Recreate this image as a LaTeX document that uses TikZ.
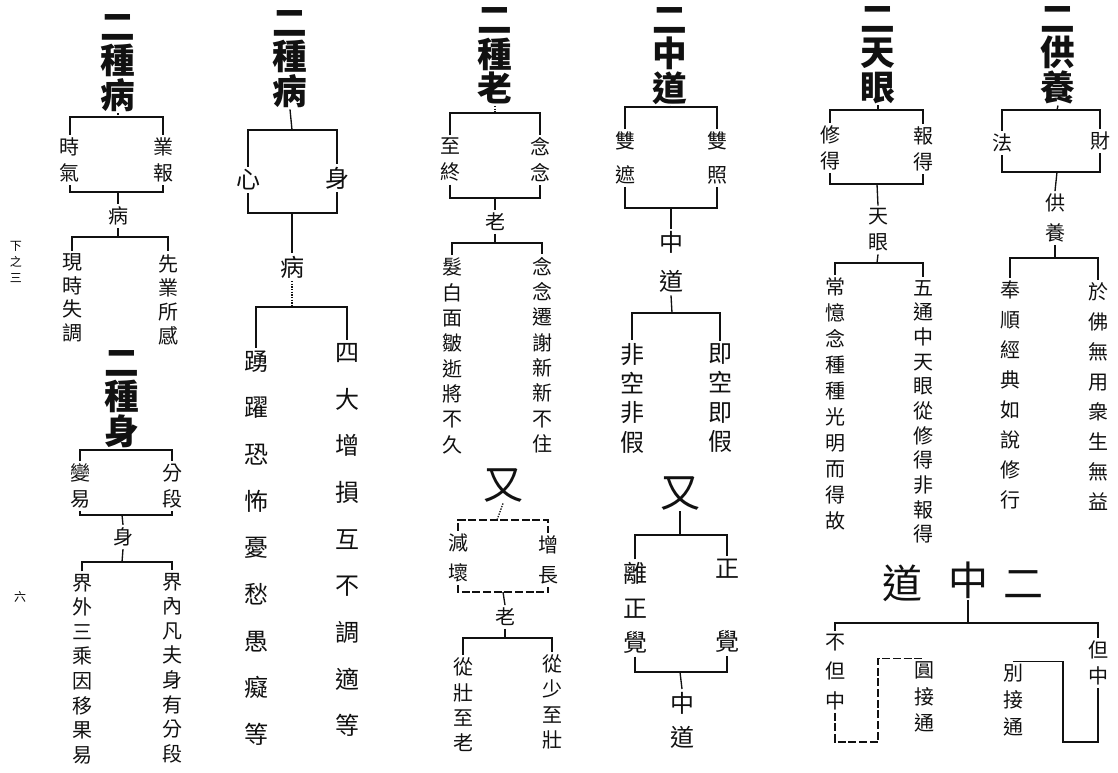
\documentclass[tikz,border=0pt]{standalone}
\usepackage{fontspec}
\usepackage{tikz}
\usetikzlibrary{positioning,calc}
\newfontfamily\kanji{Noto Sans CJK TC}
\definecolor{inkblack}{HTML}{111111}

\begin{document}
\begin{tikzpicture}[
      x=0.75pt, y=-0.75pt,
      title/.style={
        font={\kanji\bfseries\fontsize{26}{26}\selectfont\lineskiplimit=-20pt},
        align=center, inner sep=1pt, text=inkblack
      },
      kid/.style={
        font={\kanji\fontsize{15}{#1}\selectfont},
        align=center, inner sep=2pt, text=inkblack
      },
      kid/.default=19,
      kidbig/.style={
        font={\kanji\fontsize{18}{#1}\selectfont},
        align=center, inner sep=2pt, text=inkblack
      },
      kidbig/.default=26,
      bigchar/.style={font={\kanji\fontsize{30}{30}\selectfont}, inner sep=1pt, text=inkblack},
      margin/.style={font={\kanji\fontsize{9}{12}\selectfont}, align=center, inner sep=0pt},
      link/.style={line width=1pt, inkblack},
      brokenlink/.style={line width=1pt, inkblack, dash pattern=on 6pt off 2pt}
    ]
      \useasboundingbox[fill=white] (0,0) rectangle (1118,773);

      % Margin notes
      \node[margin] (vol) at (16,262) {下\\之\\三};
      \node[margin] (pg) at (20,597) {六};

      % Two kinds of illness (1)
      \node[title] (t1) at (118,63) {二\\種\\病};
      \coordinate (k1) at (118,117);
      \node[kid=19.5] (sq) at (70,160) {時\\氣};
      \node[kid=19.5] (yb) at (163,160) {業\\報};
      \coordinate (k2) at (118,192);
      \node[kid] (b1) at (118,216) {病};
      \coordinate (k3) at (118,237);
      \node[kid=17.6] (xs) at (72,298) {現\\時\\失\\調};
      \node[kid=18.2] (xy) at (168,300) {先\\業\\所\\感};

      \draw[link, densely dotted] (t1.south) -- (k1);
      \draw[link] (sq.north) |- (k1) -| (yb.north);
      \draw[link] (sq.south) |- (k2) -| (yb.south);
      \draw[link] (k2) -- (b1.north);
      \draw[link] (b1.south) -- (k3);
      \draw[link] (xs.north) |- (k3) -| (xy.north);

      % Two kinds of body
      \node[title] (t2) at (122,399) {二\\種\\身};
      \coordinate (k4) at (122,450);
      \node[kid=19] (by) at (80,486) {變\\易};
      \node[kid=19] (fd) at (172,486) {分\\段};
      \coordinate (k5) at (122,515);
      \node[kid] (s1) at (123,537) {身};
      \coordinate (k6) at (122,562);
      \node[kid=18.4] (jw) at (82,669) {界\\外\\三\\乘\\因\\移\\果\\易};
      \node[kid=18.4] (jn) at (172,668) {界\\內\\凡\\夫\\身\\有\\分\\段};

      \draw[link, densely dotted] (t2.south) -- (k4);
      \draw[link] (by.north) |- (k4) -| (fd.north);
      \draw[link] (by.south) |- (k5) -| (fd.south);
      \draw[link] (k5) -- (s1.north);
      \draw[link] (s1.south) -- (k6);
      \draw[link] (jw.north) |- (k6) -| (jn.north);

      % Two kinds of illness (2)
      \node[title] (t3) at (290,59) {二\\種\\病};
      \coordinate (k7) at (292,130);
      \node[kidbig] (xin) at (248,180) {心};
      \node[kidbig] (shen) at (337,178) {身};
      \coordinate (k8) at (292,213);
      \node[kidbig] (b2) at (292,267) {病};
      \coordinate (k9) at (292,307);
      \node[kidbig=35] (yy) at (256,548) {踴\\躍\\恐\\怖\\憂\\愁\\愚\\癡\\等};
      \node[kidbig=35] (sd) at (347,540) {四\\大\\增\\損\\互\\不\\調\\適\\等};

      \draw[link] (t3.south) -- (k7);
      \draw[link] (xin.north) |- (k7) -| (shen.north);
      \draw[link] (xin.south) |- (k8) -| (shen.south);
      \draw[link] (k8) -- (b2.north);
      \draw[link, densely dotted] (b2.south) -- (k9);
      \draw[link] (yy.north) |- (k9) -| (sd.north);

      % Two kinds of old age
      \node[title] (t4) at (495,56) {二\\種\\老};
      \coordinate (k10) at (495,113);
      \node[kid=19.5] (zz) at (450,160) {至\\終};
      \node[kid=19.5] (nn) at (540,160) {念\\念};
      \coordinate (k11) at (495,198);
      \node[kid] (l1) at (495,222) {老};
      \coordinate (k12) at (495,243);
      \node[kid=19] (fb) at (452,356) {髮\\白\\面\\皺\\逝\\將\\不\\久};
      \node[kid=19] (nq) at (542,355) {念\\念\\遷\\謝\\新\\新\\不\\住};

      \draw[link, densely dotted] (t4.south) -- (k10);
      \draw[link] (zz.north) |- (k10) -| (nn.north);
      \draw[link] (zz.south) |- (k11) -| (nn.south);
      \draw[link] (k11) -- (l1.north);
      \draw[link] (l1.south) -- (k12);
      \draw[link] (fb.north) |- (k12) -| (nq.north);

      % Again: old age
      \node[bigchar] (y1) at (503,485) {又};
      \coordinate (k13) at (497,520);
      \node[kid=22.5] (jh) at (458,558) {減\\壞};
      \node[kid=22.5] (zc) at (548,560) {增\\長};
      \coordinate (k14) at (503,592);
      \node[kid] (l2) at (505,617) {老};
      \coordinate (k15) at (505,638);
      \node[kid=19] (cz) at (463,705) {從\\壯\\至\\老};
      \node[kid=19] (cs) at (552,702) {從\\少\\至\\壯};

      \draw[link, densely dotted] (y1.south) -- (k13);
      \draw[brokenlink] (jh.north) |- (k13) -| (zc.north);
      \draw[brokenlink] (jh.south) |- (k14) -| (zc.south);
      \draw[link] (k14) -- (l2.north);
      \draw[link] (l2.south) -- (k15);
      \draw[link] (cz.north) |- (k15) -| (cs.north);

      % Two middle ways
      \node[title] (t5) at (670,56) {二\\中\\道};
      \coordinate (k16) at (671,107);
      \node[kid=25] (sz) at (625,158) {雙\\遮};
      \node[kid=25] (sz2) at (717,158) {雙\\照};
      \coordinate (k17) at (671,208);
      \node[kidbig=29] (zd) at (671,262) {中\\道};
      \coordinate (k18) at (672,313);
      \node[kidbig=22] (fk) at (632,398) {非\\空\\非\\假};
      \node[kidbig=22] (jk) at (720,398) {即\\空\\即\\假};

      \draw[link] (t5.south) -- (k16);
      \draw[link] (sz.north) |- (k16) -| (sz2.north);
      \draw[link] (sz.south) |- (k17) -| (sz2.south);
      \draw[link] (k17) -- (zd.north);
      \draw[link] (zd.south) -- (k18);
      \draw[link] (fk.north) |- (k18) -| (jk.north);

      % Again: middle way
      \node[bigchar] (y2) at (680,493) {又};
      \coordinate (k19) at (680,535);
      \node[kidbig=26] (lz) at (635,608) {離\\正\\覺};
      \node[kidbig=55] (zj) at (727,606) {正\\覺};
      \coordinate (k20) at (680,672);
      \node[kidbig=25.5] (zd3) at (682,720) {中\\道};

      \draw[link] (y2.south) -- (k19);
      \draw[link] (lz.north) |- (k19) -| (zj.north);
      \draw[link] (lz.south) |- (k20) -| (zj.south);
      \draw[link] (k20) -- (zd3.north);

      % Two divine eyes
      \node[title] (t6) at (878,55) {二\\天\\眼};
      \coordinate (k21) at (878,110);
      \node[kid=20] (xd) at (830,148) {修\\得};
      \node[kid=20] (bd) at (923,149) {報\\得};
      \coordinate (k22) at (877,184);
      \node[kid=19.5] (ty) at (878,230) {天\\眼};
      \coordinate (k23) at (877,263);
      \node[kid=19.5] (cy) at (835,404) {常\\憶\\念\\種\\種\\光\\明\\而\\得\\故};
      \node[kid=18.5] (wt) at (923,412) {五\\通\\中\\天\\眼\\從\\修\\得\\非\\報\\得};

      \draw[link] (t6.south) -- (k21);
      \draw[link] (xd.north) |- (k21) -| (bd.north);
      \draw[link] (xd.south) |- (k22) -| (bd.south);
      \draw[link] (k22) -- (ty.north);
      \draw[link] (ty.south) -- (k23);
      \draw[link] (cy.north) |- (k23) -| (wt.north);

      % Two offerings
      \node[title] (t7) at (1058,55) {二\\供\\養};
      \coordinate (k24) at (1057,110);
      \node[kid] (fa) at (1002,143) {法};
      \node[kid] (cai) at (1100,141) {財};
      \coordinate (k25) at (1057,172);
      \node[kid=22] (gy) at (1055,218) {供\\養};
      \coordinate (k26) at (1055,258);
      \node[kid=22.5] (fs) at (1010,395) {奉\\順\\經\\典\\如\\說\\修\\行};
      \node[kid=22.5] (yf) at (1098,397) {於\\佛\\無\\用\\衆\\生\\無\\益};

      \draw[link] (t7.south) -- (k24);
      \draw[link] (fa.north) |- (k24) -| (cai.north);
      \draw[link] (fa.south) |- (k25) -| (cai.south);
      \draw[link] (k25) -- (gy.north);
      \draw[link] (gy.south) -- (k26);
      \draw[link] (fs.north) |- (k26) -| (yf.north);

      % Two middle ways, horizontal heading
      \node[bigchar] (hz1) at (902,583) {道};
      \node[bigchar] (hz2) at (968,580) {中};
      \node[bigchar] (hz3) at (1023,585) {二};
      \coordinate (k27) at (968,623);
      \node[kid=22] (bdz) at (835,672) {不\\但\\中};
      \node[kid=20] (dz) at (1098,663) {但\\中};
      \node[kid=20] (ytj) at (924,697) {圓\\接\\通};
      \node[kid=20] (bjt) at (1013,700) {別\\接\\通};
      \coordinate (k28) at (878,742);
      \coordinate (k29) at (1063,742);

      \draw[link] (hz2.south) -- (k27);
      \draw[link] (bdz.north) |- (k27) -| (dz.north);
      \draw[brokenlink] (bdz.south) |- (k28) |- (ytj.north);
      \draw[link] (dz.south) |- (k29) |- (bjt.north);
    \end{tikzpicture}
\end{document}
